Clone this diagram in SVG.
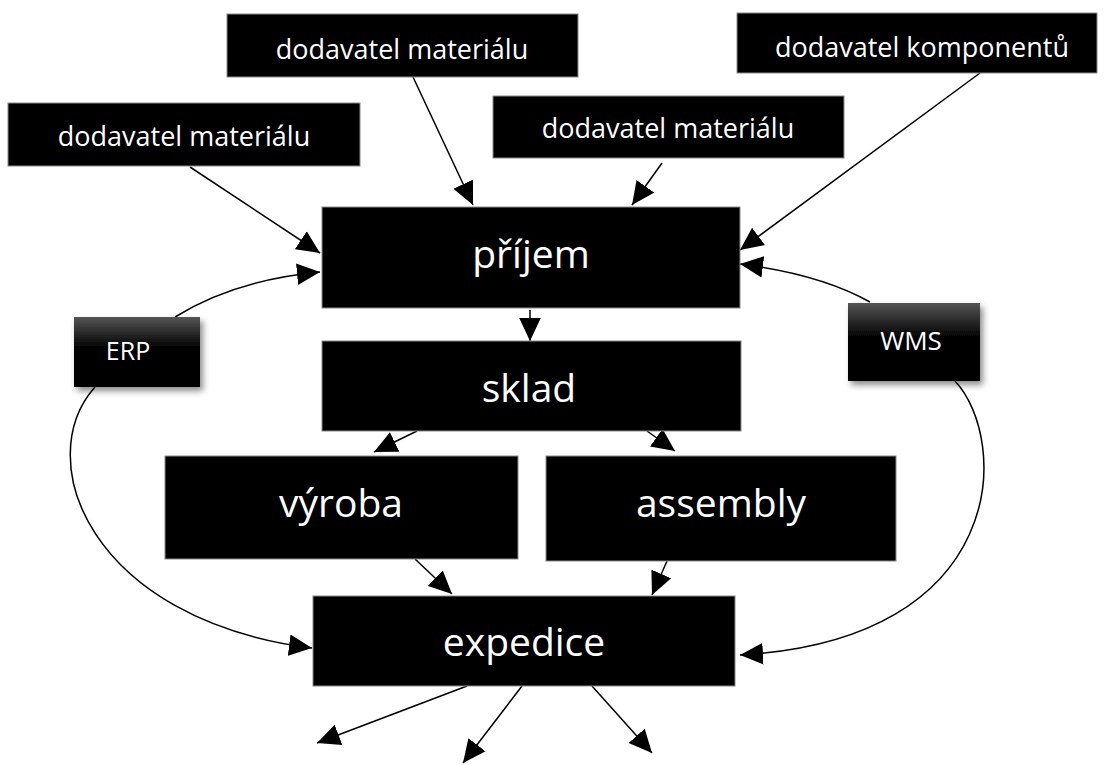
<svg xmlns="http://www.w3.org/2000/svg" width="1109" height="765" viewBox="0 0 1109 765">
<style>
.box{fill:#000;stroke:#8a8a8a;stroke-width:1}
.sm{font-family:"Open Sans","Noto Sans",sans-serif;font-size:27px;fill:#fff;text-anchor:middle}
.lg{font-family:"Open Sans","Noto Sans",sans-serif;font-size:39px;fill:#fff;text-anchor:middle}
.c{fill:none;stroke:#000;stroke-width:1.5;marker-end:url(#ah)}
</style>
<defs>
<marker id="ah" viewBox="0 0 10 10" refX="10" refY="5" markerWidth="23" markerHeight="23" markerUnits="userSpaceOnUse" orient="auto">
<path d="M0,0.3 L10,5 L0,9.7 z" fill="#000"/>
</marker>
<linearGradient id="gr" x1="0" y1="0" x2="0" y2="1">
<stop offset="0" stop-color="#555"/>
<stop offset="0.45" stop-color="#000"/>
<stop offset="1" stop-color="#000"/>
</linearGradient>
<filter id="sh" x="-20%" y="-20%" width="150%" height="160%">
<feDropShadow dx="3" dy="4" stdDeviation="3" flood-color="#000" flood-opacity="0.45"/>
</filter>
</defs>
<rect width="1109" height="765" fill="#fff"/>
<g id="connectors">
<path class="c" d="M190,167 L320,253"/>
<path class="c" d="M413,77 L473,205"/>
<path class="c" d="M662,163 L632,205"/>
<path class="c" d="M980,73 L740,250"/>
<path class="c" d="M530,310 L530,341"/>
<path class="c" d="M417,431 L374,452"/>
<path class="c" d="M647,431 L675,451"/>
<path class="c" d="M415,559 L452,594"/>
<path class="c" d="M667,561 L652,595"/>
<path class="c" d="M467,686 L317,743"/>
<path class="c" d="M522,686 L463,763"/>
<path class="c" d="M592,686 L652,753"/>
<path class="c" d="M175,317 Q235,280 320,272"/>
<path class="c" d="M95,387 C30,460 90,620 312,648"/>
<path class="c" d="M870,302 Q820,274 740,264"/>
<path class="c" d="M955,381 C1010,440 1010,640 740,655"/>
</g>
<g id="sup1"><rect class="box" x="8" y="103" width="352" height="63"/><text class="sm" x="184" y="146">dodavatel materiálu</text></g>
<g id="sup2"><rect class="box" x="227" y="14" width="351" height="63"/><text class="sm" x="402" y="59">dodavatel materiálu</text></g>
<g id="sup3"><rect class="box" x="493" y="96" width="351" height="62"/><text class="sm" x="668" y="138">dodavatel materiálu</text></g>
<g id="sup4"><rect class="box" x="737" y="13" width="360" height="60"/><text class="sm" x="922" y="57">dodavatel komponentů</text></g>
<g id="prijem"><rect class="box" x="322" y="207" width="418" height="101"/><text class="lg" x="531" y="268">příjem</text></g>
<g id="sklad"><rect class="box" x="322" y="341" width="419" height="90"/><text class="lg" x="529" y="402">sklad</text></g>
<g id="vyroba"><rect class="box" x="165" y="456" width="353" height="103"/><text class="lg" x="341" y="517">výroba</text></g>
<g id="assembly"><rect class="box" x="546" y="456" width="350" height="105"/><text class="lg" x="721" y="517">assembly</text></g>
<g id="expedice"><rect class="box" x="313" y="596" width="422" height="90"/><text class="lg" x="524" y="656">expedice</text></g>
<g id="erp"><rect x="74" y="317" width="126" height="70" fill="url(#gr)" filter="url(#sh)"/><text class="sm" x="128" y="360" style="font-size:25px">ERP</text></g>
<g id="wms"><rect x="848" y="303" width="132" height="78" fill="url(#gr)" filter="url(#sh)"/><text class="sm" x="911" y="350" style="font-size:26px">WMS</text></g>
</svg>
